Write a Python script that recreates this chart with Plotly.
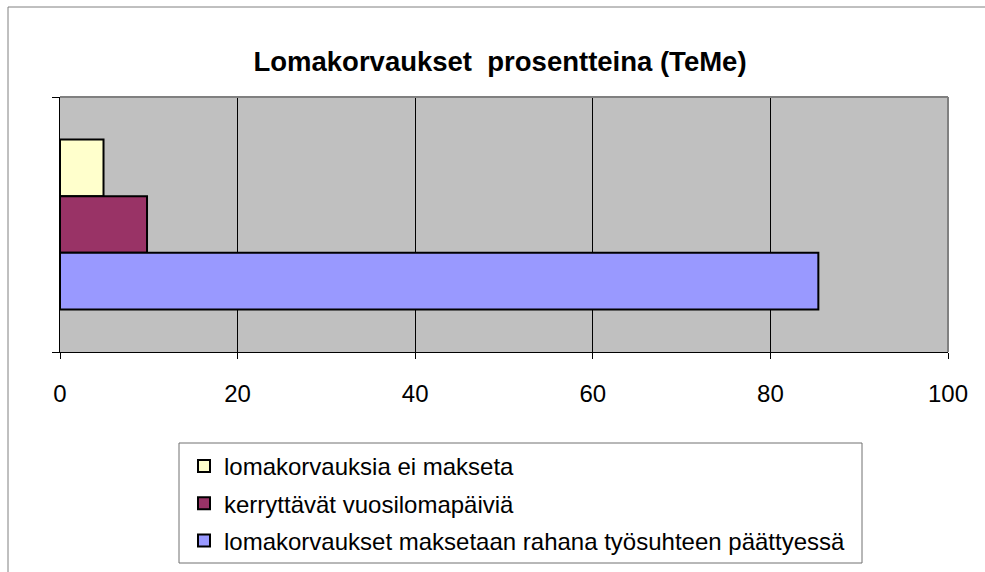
import plotly.graph_objects as go

categories = ["TeMe"]
series_names = [
    "lomakorvauksia ei makseta",
    "kerryttävät vuosilomapäiviä",
    "lomakorvaukset maksetaan rahana työsuhteen päättyessä",
]
series_values = [[4.9], [9.8], [85.4]]
series_colors = ["#FFFFCC", "#993366", "#9999FF"]
x_ticks = [0, 20, 40, 60, 80, 100]
title_text = "Lomakorvaukset  prosentteina (TeMe)"

FONT = "Liberation Sans, Arial, sans-serif"
W, H = 985, 572
ML, MR, MT, MB = 60, 37, 97, 220
PW, PH = W - ML - MR, H - MT - MB

def px_x(px):
    return (px - ML) / PW

def px_y(py):
    return (H - MB - py) / PH

fig = go.Figure()
for i, (name, vals, col) in enumerate(zip(series_names, series_values, series_colors)):
    fig.add_trace(go.Bar(
        x=vals, y=categories, orientation="h", name=name,
        marker=dict(color=col, line=dict(color="black", width=2)),
        legendgroup=f"g{i}",
    ))

fig.update_layout(
    width=W, height=H,
    margin=dict(l=ML, r=MR, t=MT, b=MB, autoexpand=False),
    paper_bgcolor="white", plot_bgcolor="#C0C0C0",
    barmode="group", bargap=1/3, bargroupgap=0,
    font=dict(family=FONT, color="black", size=24),
    title=dict(text=f"<b>{title_text}</b>", font=dict(size=27.5, family=FONT, color="black"),
               x=500 / W, xanchor="center", xref="container",
               y=1 - 61 / H, yanchor="middle", yref="container"),
    showlegend=True,
    legend=dict(
        x=px_x(184), xanchor="left", y=px_y(444), yanchor="top",
        bgcolor="rgba(0,0,0,0)", borderwidth=0,
        font=dict(size=24, family=FONT, color="black"),
        tracegroupgap=3, traceorder="grouped",
    ),
    xaxis=dict(
        range=[0, 100], tickvals=x_ticks, showgrid=True, gridcolor="black", gridwidth=1,
        showline=True, linecolor="black", linewidth=1, ticks="outside", ticklen=6,
        tickcolor="black", zeroline=False, ticklabelstandoff=14,
        tickfont=dict(size=24, family=FONT),
    ),
    yaxis=dict(
        type="category", autorange="reversed", tickson="boundaries", ticks="outside",
        ticklen=7, tickcolor="black", showticklabels=False, showline=True,
        linecolor="black", linewidth=1, showgrid=False,
    ),
    shapes=[
        dict(type="line", xref="paper", yref="paper", x0=0, x1=1, y0=1, y1=1,
             line=dict(color="#808080", width=2), layer="above"),
        dict(type="line", xref="paper", yref="paper", x0=1, x1=1, y0=0, y1=1,
             line=dict(color="#808080", width=2), layer="above"),
        dict(type="line", xref="paper", yref="paper", x0=px_x(8), x1=px_x(W + 5),
             y0=px_y(7), y1=px_y(7), line=dict(color="#808080", width=1)),
        dict(type="line", xref="paper", yref="paper", x0=px_x(8), x1=px_x(8),
             y0=px_y(7), y1=px_y(H + 5), line=dict(color="#808080", width=1)),
        dict(type="rect", xref="paper", yref="paper", x0=px_x(179), x1=px_x(862),
             y0=px_y(563), y1=px_y(443), fillcolor="white",
             line=dict(color="#707070", width=1), layer="below"),
    ],
)

fig.write_html(
    "out.html",
    config={"displayModeBar": False},
    post_script="document.body.style.margin='0';document.body.style.padding='0';",
)
